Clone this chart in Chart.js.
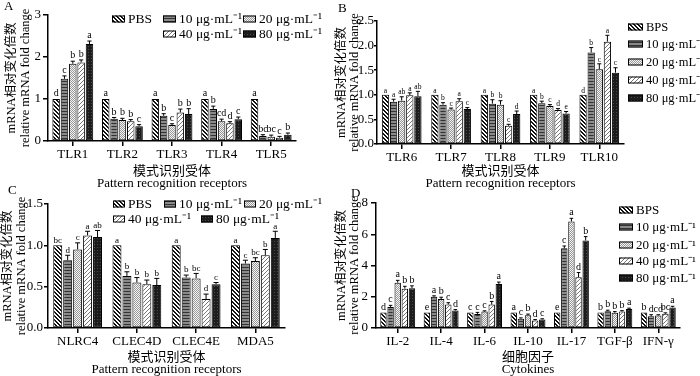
<!DOCTYPE html>
<html>
<head>
<meta charset="utf-8">
<script src="https://cdn.jsdelivr.net/npm/chart.js@4.4.1/dist/chart.umd.min.js"></script>
<style>
  body { margin: 0; background: #fff; width: 700px; height: 376px; position: relative; overflow: hidden;
         font-family: "Liberation Serif", "Noto Sans CJK SC", serif; }
  .box { position: absolute; }
  .tag { position: absolute; font-size: 13px; color: #000; }
</style>
</head>
<body>
<div class="box" style="left:0;top:0;width:335px;height:190px"><canvas id="chartA"></canvas></div>
<div class="box" style="left:333px;top:0;width:367px;height:190px"><canvas id="chartB"></canvas></div>
<div class="box" style="left:0;top:186px;width:335px;height:190px"><canvas id="chartC"></canvas></div>
<div class="box" style="left:333px;top:186px;width:367px;height:190px"><canvas id="chartD"></canvas></div>
<div class="tag" style="left:4px;top:-2px">A</div>
<div class="tag" style="left:338px;top:0px">B</div>
<div class="tag" style="left:8px;top:182px">C</div>
<div class="tag" style="left:351px;top:185px">D</div>
<script>
const SERIF = '"Liberation Serif", "Noto Sans CJK SC", serif';

const namesPBS = ["PBS", "10 μg·mL⁻¹", "20 μg·mL⁻¹", "40 μg·mL⁻¹", "80 μg·mL⁻¹"];
const namesBPS = ["BPS", "10 μg·mL⁻¹", "20 μg·mL⁻¹", "40 μg·mL⁻¹", "80 μg·mL⁻¹"];
const yTitle = ["mRNA相对变化倍数", "relative mRNA fold change"];
const xTitlePRR = ["模式识别受体", "Pattern recognition receptors"];
const xTitleCyt = ["细胞因子", "Cytokines"];

// A
const aCats = ["TLR1", "TLR2", "TLR3", "TLR4", "TLR5"];
const aPBS = [1.00, 1.00, 1.00, 1.00, 1.00];
const a10 = [1.48, 0.53, 0.60, 0.76, 0.12];
const a20 = [1.84, 0.50, 0.38, 0.47, 0.10];
const a40 = [1.87, 0.47, 0.68, 0.42, 0.08];
const a80 = [2.31, 0.35, 0.64, 0.52, 0.15];
const aErr = [
  [0, 0, 0, 0, 0],
  [0.07, 0.03, 0.05, 0.07, 0.03],
  [0.06, 0.04, 0.03, 0.05, 0.04],
  [0.06, 0.04, 0.08, 0.04, 0.03],
  [0.07, 0.04, 0.13, 0.05, 0.04],
];
const aLet = [
  ["d", "a", "a", "a", "a"],
  ["c", "b", "b", "b", "bc"],
  ["b", "b", "c", "cd", "bc"],
  ["b", "b", "b", "d", "c"],
  ["a", "c", "b", "c", "b"],
];

// B
const bCats = ["TLR6", "TLR7", "TLR8", "TLR9", "TLR10"];
const bPBS = [1.00, 1.00, 1.00, 1.00, 1.00];
const b10 = [0.86, 0.80, 0.82, 0.83, 1.86];
const b20 = [0.88, 0.70, 0.80, 0.77, 1.52];
const b40 = [0.99, 0.87, 0.37, 0.69, 2.08];
const b80 = [0.97, 0.71, 0.61, 0.62, 1.45];
const bErr = [
  [0, 0, 0, 0, 0],
  [0.05, 0.04, 0.08, 0.04, 0.10],
  [0.08, 0.03, 0.08, 0.03, 0.11],
  [0.05, 0.05, 0.03, 0.03, 0.13],
  [0.10, 0.03, 0.06, 0.04, 0.10],
];
const bLet = [
  ["a", "a", "a", "a", "d"],
  ["a", "b", "b", "b", "b"],
  ["ab", "c", "b", "c", "c"],
  ["a", "a", "c", "d", "a"],
  ["ab", "c", "d", "e", "c"],
];

// C
const cCats = ["NLRC4", "CLEC4D", "CLEC4E", "MDA5"];
const cPBS = [1.00, 1.00, 1.00, 1.00];
const c10 = [0.82, 0.63, 0.61, 0.78];
const c20 = [0.95, 0.55, 0.60, 0.81];
const c40 = [1.12, 0.53, 0.35, 0.88];
const c80 = [1.10, 0.52, 0.53, 1.09];
const cErr = [
  [0, 0, 0, 0],
  [0.06, 0.05, 0.03, 0.04],
  [0.08, 0.06, 0.06, 0.04],
  [0.05, 0.05, 0.06, 0.07],
  [0.08, 0.08, 0.02, 0.08],
];
const cLet = [
  ["bc", "a", "a", "a"],
  ["d", "b", "b", "c"],
  ["c", "b", "bc", "bc"],
  ["a", "b", "d", "b"],
  ["ab", "b", "c", "a"],
];

// D
const dCats = ["IL-2", "IL-4", "IL-6", "IL-10", "IL-17", "TGF-β", "IFN-γ"];
const dPBS = [1.00, 1.00, 1.00, 1.00, 1.00, 1.00, 1.00];
const d10 = [1.35, 2.00, 0.90, 0.60, 5.10, 1.08, 0.75];
const d20 = [2.90, 1.85, 1.05, 0.82, 6.82, 0.97, 0.80];
const d40 = [2.52, 1.50, 1.50, 0.48, 3.25, 1.06, 0.92];
const d80 = [2.55, 1.12, 2.82, 0.55, 5.60, 1.22, 1.32];
const dErr = [
  [0, 0, 0, 0, 0, 0, 0],
  [0.10, 0.06, 0.10, 0.05, 0.15, 0.06, 0.10],
  [0.15, 0.12, 0.05, 0.07, 0.20, 0.08, 0.05],
  [0.15, 0.12, 0.20, 0.06, 0.30, 0.05, 0.05],
  [0.15, 0.06, 0.12, 0.04, 0.25, 0.05, 0.07],
];
const dLet = [
  ["d", "e", "c", "a", "e", "b", "b"],
  ["c", "a", "c", "c", "c", "b", "d"],
  ["a", "b", "c", "b", "a", "b", "cd"],
  ["b", "c", "b", "d", "d", "b", "bc"],
  ["b", "d", "a", "c", "b", "a", "a"],
];

// fill patterns for the five groups
function makePattern(kind) {
  const c = document.createElement("canvas");
  const g = c.getContext("2d");
  if (kind == 0) {
    c.width = 4; c.height = 4;
    g.fillStyle = "#fff"; g.fillRect(0, 0, 4, 4);
    g.fillStyle = "#111";
    for (let i = 0; i < 4; i++) { g.fillRect(i, i, 1, 1); g.fillRect((i + 1) % 4, i, 1, 1); }
  } else if (kind == 1) {
    c.width = 4; c.height = 3;
    g.fillStyle = "#8a8a8a"; g.fillRect(0, 0, 4, 3);
    g.fillStyle = "#333"; g.fillRect(0, 0, 4, 1);
  } else if (kind == 2) {
    c.width = 2; c.height = 2;
    g.fillStyle = "#f4f4f4"; g.fillRect(0, 0, 2, 2);
    g.fillStyle = "#999"; g.fillRect(0, 0, 1, 1); g.fillRect(1, 1, 1, 1);
  } else if (kind == 3) {
    c.width = 4; c.height = 4;
    g.fillStyle = "#fff"; g.fillRect(0, 0, 4, 4);
    g.fillStyle = "#777";
    for (let i = 0; i < 4; i++) g.fillRect(3 - i, i, 1, 1);
  } else {
    c.width = 3; c.height = 3;
    g.fillStyle = "#1c1c1c"; g.fillRect(0, 0, 3, 3);
    g.fillStyle = "#4a4a4a"; g.fillRect(1, 1, 1, 1);
  }
  return g.createPattern(c, "repeat");
}
const fills = [0, 1, 2, 3, 4].map(makePattern);

// error bars + significance letters
const errBars = {
  id: "errBars",
  afterDatasetsDraw(chart, args, opts) {
    const ctx = chart.ctx;
    const y = chart.scales.y;
    ctx.save();
    ctx.strokeStyle = "#000";
    ctx.lineWidth = 1;
    ctx.fillStyle = "#000";
    ctx.font = opts.font + "px " + SERIF;
    ctx.textAlign = "center";
    ctx.textBaseline = "bottom";
    chart.data.datasets.forEach((ds, i) => {
      const meta = chart.getDatasetMeta(i);
      meta.data.forEach((bar, j) => {
        const v = ds.data[j];
        const e = opts.errs[i][j];
        const top = y.getPixelForValue(v + e);
        if (e > 0) {
          const half = bar.width * 0.28;
          ctx.beginPath();
          ctx.moveTo(bar.x, bar.y);
          ctx.lineTo(bar.x, top);
          ctx.moveTo(bar.x - half, top);
          ctx.lineTo(bar.x + half, top);
          ctx.stroke();
        }
        ctx.fillText(opts.letters[i][j], bar.x, top - 0.5);
      });
    });
    ctx.restore();
  },
};

// legend drawn at fixed spots
const patLegend = {
  id: "patLegend",
  afterDraw(chart, args, opts) {
    const ctx = chart.ctx;
    ctx.save();
    ctx.font = opts.size + "px " + SERIF;
    ctx.textBaseline = "middle";
    opts.items.forEach((p, i) => {
      const x = p[0] - opts.dx;
      const yy = p[1] - opts.dy;
      ctx.fillStyle = fills[i];
      ctx.fillRect(x, yy - opts.sh / 2, opts.sw, opts.sh);
      ctx.strokeStyle = "#000";
      ctx.lineWidth = 1;
      ctx.strokeRect(x + 0.5, yy - opts.sh / 2 + 0.5, opts.sw - 1, opts.sh - 1);
      ctx.fillStyle = "#000";
      ctx.fillText(opts.names[i], x + opts.sw + 3, yy + 0.5);
    });
    ctx.restore();
  },
};

function makeChart(id, cfg) {
  const datasets = cfg.series.map((s, i) => ({
    label: cfg.names[i],
    data: s,
    backgroundColor: fills[i],
    borderColor: "#000",
    borderWidth: 1,
    borderSkipped: false,
    categoryPercentage: cfg.catPct,
    barPercentage: 0.9,
  }));
  return new Chart(document.getElementById(id), {
    type: "bar",
    data: { labels: cfg.cats, datasets: datasets },
    plugins: [errBars, patLegend],
    options: {
      responsive: true,
      maintainAspectRatio: false,
      animation: false,
      layout: { padding: { top: cfg.top, right: cfg.right, bottom: 0, left: 0 } },
      plugins: {
        legend: { display: false },
        tooltip: { enabled: false },
        errBars: { errs: cfg.errs, letters: cfg.letters, font: cfg.letFont },
        patLegend: { items: cfg.legend, names: cfg.names, dx: cfg.dx, dy: cfg.dy, sw: cfg.sw, sh: 7, size: cfg.legFont },
      },
      scales: {
        x: {
          ticks: { color: "#000", font: { family: SERIF, size: 13 }, padding: 1, autoSkip: false, maxRotation: 0 },
          grid: { offset: false, drawOnChartArea: false, tickLength: 5, color: "#000", lineWidth: 1.5 },
          border: { color: "#000", width: 1.5 },
          title: { display: true, text: cfg.xTitle, color: "#000", font: { family: SERIF, size: 13, lineHeight: "12.5px" }, padding: 0 },
          afterFit: (s) => { s.height = cfg.xH; },
        },
        y: {
          min: 0,
          max: cfg.yMax,
          ticks: { stepSize: cfg.step, color: "#000", font: { family: SERIF, size: 13 }, padding: cfg.tickPad,
                   callback: (v) => v.toFixed(cfg.dec) },
          grid: { drawOnChartArea: false, tickLength: cfg.tickLen, color: "#000", lineWidth: 1.5 },
          border: { color: "#000", width: 1.5 },
          title: { display: true, text: yTitle, color: "#000", font: { family: SERIF, size: 12.5, lineHeight: "13.5px" },
                   padding: { top: cfg.tpad, bottom: 0 } },
          afterFit: (s) => { s.width = cfg.yW; },
        },
      },
    },
  });
}

makeChart("chartA", {
  cats: aCats, series: [aPBS, a10, a20, a40, a80], errs: aErr, letters: aLet, names: namesPBS,
  xTitle: xTitlePRR, yMax: 3, step: 1, dec: 0, letFont: 10, catPct: 0.84, legFont: 13.5,
  top: 15, right: 39, yW: 48, xH: 49, tpad: 5.25, tickLen: 5, tickPad: 2, dx: 0, dy: 0, sw: 13,
  legend: [[112, 19], [163, 19], [243, 19], [163, 34], [243, 34]],
});

makeChart("chartB", {
  cats: bCats, series: [bPBS, b10, b20, b40, b80], errs: bErr, letters: bLet, names: namesBPS,
  xTitle: xTitlePRR, yMax: 2.5, step: 0.5, dec: 1, letFont: 7.5, catPct: 0.82, legFont: 12.5,
  top: 21, right: 76, yW: 44, xH: 46, tpad: 1.5, tickLen: 3, tickPad: 0, dx: 333, dy: 0, sw: 15,
  legend: [[628, 27], [628, 44], [628, 62], [628, 80], [628, 98]],
});

makeChart("chartC", {
  cats: cCats, series: [cPBS, c10, c20, c40, c80], errs: cErr, letters: cLet, names: namesPBS,
  xTitle: xTitlePRR, yMax: 1.5, step: 0.5, dec: 1, letFont: 9, catPct: 0.84, legFont: 13.5,
  top: 18, right: 50, yW: 48, xH: 48, tpad: 1.25, tickLen: 4, tickPad: 1, dx: 0, dy: 186, sw: 12,
  legend: [[113, 204], [164, 204], [244, 204], [113, 219], [201, 219]],
});

makeChart("chartD", {
  cats: dCats, series: [dPBS, d10, d20, d40, d80], errs: dErr, letters: dLet, names: namesBPS,
  xTitle: xTitleCyt, yMax: 8, step: 2, dec: 0, letFont: 10, catPct: 0.82, legFont: 13,
  top: 17, right: 20, yW: 43, xH: 48, tpad: 1.5, tickLen: 5, tickPad: 3, dx: 333, dy: 186, sw: 14,
  legend: [[619, 210], [619, 227], [619, 245], [619, 261], [619, 278]],
});
</script>
</body>
</html>
